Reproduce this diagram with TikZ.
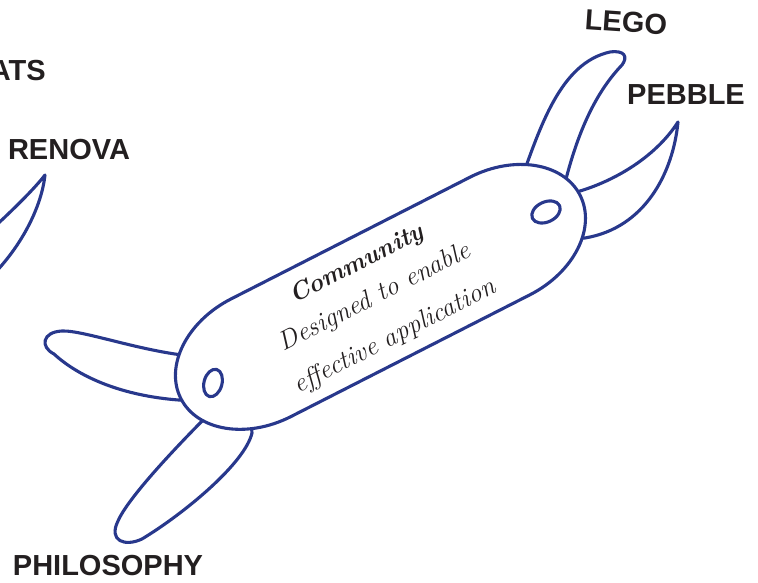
\documentclass[tikz,border=0pt]{standalone}
\usepackage{fontspec}
\newfontfamily\labelfont{Liberation Sans}
\definecolor{knifeblue}{RGB}{40,56,140}
\definecolor{ink}{RGB}{35,31,32}
\tikzset{
  outline/.style={draw=knifeblue, line width=3.1pt, fill=white, line join=round},
  toollabel/.style={text=ink, inner sep=0pt, font=\labelfont\bfseries\fontsize{29}{31}\selectfont},
  scripttext/.style={text=ink, rotate=27, inner sep=0pt, font=\itshape\fontsize{26.5}{28}\selectfont},
}
\begin{document}
\begin{tikzpicture}[x=1pt,y=1pt]
\clip (0,0) rectangle (758,583);

% blades, drawn first so the handle covers their roots
% partly hidden blade on the left edge
\draw[outline] (-10,352) .. controls (15,375) and (35,395) .. (45,408)
  .. controls (42,380) and (25,340) .. (-10,305);
% left blade
\draw[outline] (205,226) .. controls (150,228) and (85,253) .. (62,252)
  .. controls (42,251) and (40,236) .. (54,229)
  .. controls (80,205) and (130,182) .. (205,182);
% lower blade
\draw[outline] (212,172) .. controls (175,135) and (128,85) .. (118,62)
  .. controls (108,42) and (125,36) .. (142,44)
  .. controls (185,70) and (245,120) .. (252,150) -- (250,175);
% upper blade
\draw[outline] (520,400) .. controls (540,455) and (560,520) .. (610,531)
  .. controls (625,533) and (628,526) .. (622,518)
  .. controls (600,495) and (580,460) .. (565,400);
% pointed right blade
\draw[outline] (565,388) .. controls (610,398) and (655,425) .. (678,461)
  .. controls (673,410) and (645,355) .. (585,345) -- (565,345);

% handle
\begin{scope}[shift={(380,287)}, rotate=27]
  \draw[outline] (-134,65) -- (134,65)
    arc[start angle=90, end angle=-90, x radius=90, y radius=66] -- (-134,-67)
    arc[start angle=270, end angle=90, x radius=90, y radius=66] -- cycle;
\end{scope}
% rivet holes
\draw[outline] (213,200) ellipse[x radius=14, y radius=9, rotate=75];
\draw[outline] (546,371) ellipse[x radius=15, y radius=10, rotate=25];

% handle inscription
\node[scripttext, font=\bfseries\itshape\fontsize{25}{27}\selectfont] (title) at (357,318) {Community};
\node[scripttext] (line1) at (375,285) {Designed to enable};
\node[scripttext] (line2) at (395,246) {effective application};

% tool labels
\node[toollabel, rotate=-4] (lego) at (626,561) {LEGO};
\node[toollabel] (pebble) at (686,488) {PEBBLE};
\node[toollabel] (renova) at (69,433) {RENOVA};
\node[toollabel, anchor=east] (ats) at (46,512) {ATS};
\node[toollabel] (philosophy) at (108,17) {PHILOSOPHY};
\end{tikzpicture}
\end{document}
